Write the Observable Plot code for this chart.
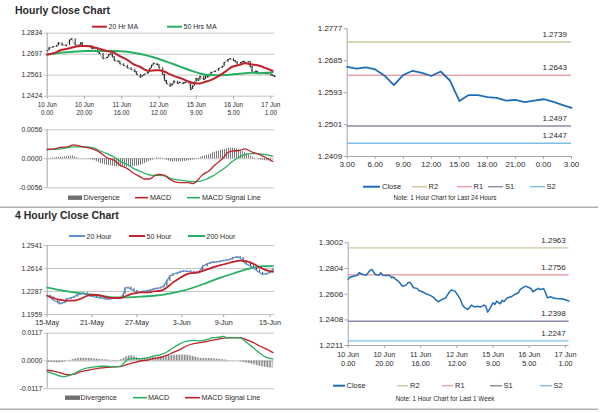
<!DOCTYPE html>
<html><head><meta charset="utf-8">
<script src="https://cdn.jsdelivr.net/npm/d3@7"></script>
<script src="https://cdn.jsdelivr.net/npm/@observablehq/plot@0.6"></script>
<style>
html,body{margin:0;padding:0;background:#fff;}
#root{position:relative;width:600px;height:413px;overflow:hidden;background:#fff;font-family:"Liberation Sans",Arial,Helvetica,sans-serif;}
#root svg{position:absolute;overflow:visible;}
</style></head>
<body><div id="root"></div>
<script>
// ================= DATA =================
// Hourly (last 1 week) – tick labels
const hrTickPos  = [0,20,40,60,80,100,120];
const hrTickDate = ["10 Jun","10 Jun","11 Jun","12 Jun","15 Jun","16 Jun","17 Jun"];
const hrTickTime = ["0.00","20.00","16.00","12.00","9.00","5.00","1.00"];
// Hourly close (bar index, value)
const hrX = [0,1,3,5,6,8,10,12,13,15,17,18,19,21,23,24,25,27,28,30,32,33,34,35,36,38,39,41,43,45,47,48,50,51,52,54,55,56,57,59,60,62,63,64,66,67,68,70,71,73,74,75,76,77,78,79,80,81,82,84,85,86,87,88,90,92,94,95,97,98,100,101,102,104,105,106,108,109,110,112,113,115,117,118,120,121,122];
const hrClose = [1.2720,1.2738,1.2745,1.2751,1.2771,1.2758,1.2753,1.2789,1.2797,1.2758,1.2753,1.2771,1.2753,1.2751,1.2751,1.2733,1.2738,1.2712,1.2702,1.2668,1.2676,1.2694,1.2699,1.2681,1.2656,1.2651,1.2635,1.2625,1.2609,1.2599,1.2584,1.2566,1.2548,1.2558,1.2566,1.2579,1.2604,1.2625,1.2638,1.2630,1.2609,1.2566,1.2527,1.2507,1.2489,1.2502,1.2522,1.2507,1.2514,1.2507,1.2514,1.2522,1.2514,1.2468,1.2489,1.2514,1.2540,1.2527,1.2553,1.2532,1.2558,1.2548,1.2566,1.2579,1.2586,1.2604,1.2617,1.2643,1.2661,1.2668,1.2656,1.2648,1.2625,1.2643,1.2651,1.2643,1.2648,1.2617,1.2579,1.2586,1.2579,1.2573,1.2571,1.2571,1.2563,1.2558,1.2553];
const hrMA20X = [0,4,7,11,14,18,21,25,28,32,36,39,43,46,50,53,55,58,60,63,66,69,73,76,79,82,85,89,92,96,99,103,106,110,114,117,121];
const hrMA20  = [1.2695,1.2706,1.2723,1.2733,1.2743,1.2750,1.2750,1.2743,1.2733,1.2718,1.2706,1.2685,1.2660,1.2635,1.2614,1.2593,1.2589,1.2593,1.2593,1.2583,1.2566,1.2551,1.2535,1.2518,1.2509,1.2507,1.2518,1.2535,1.2555,1.2587,1.2614,1.2626,1.2639,1.2631,1.2622,1.2608,1.2589];
const hrMA50X = [0,7,14,21,28,36,43,50,57,64,71,78,82,85,89,92,96,99,103,106,110,114,117,121];
const hrMA50  = [1.2695,1.2706,1.2714,1.2718,1.2718,1.2718,1.2714,1.2698,1.2677,1.2649,1.2618,1.2587,1.2572,1.2564,1.2562,1.2560,1.2562,1.2566,1.2570,1.2574,1.2576,1.2574,1.2576,1.2580];
const hrYTicks = [1.2424,1.2561,1.2697,1.2834];
// Hourly MACD
const hrMacdX = [0,4,7,11,14,16,18,21,25,28,32,36,39,43,46,50,52,55,58,60,63,66,69,73,76,78,80,83,87,90,94,97,99,103,106,110,114,117,121];
const hrMacd  = [0.0018,0.0019,0.0022,0.0023,0.0027,0.0026,0.0024,0.0022,0.0018,0.0013,0.0002,-0.0003,-0.0012,-0.0019,-0.0027,-0.0035,-0.0039,-0.0039,-0.0032,-0.0030,-0.0032,-0.0040,-0.0045,-0.0046,-0.0046,-0.0048,-0.0044,-0.0032,-0.0023,-0.0012,0,0.0012,0.0015,0.0016,0.0019,0.0013,0.0008,0.0003,-0.0005];
const hrSigX = [0,7,14,21,25,28,32,36,39,43,46,50,53,57,60,64,67,71,74,78,82,85,89,92,96,99,103,106,110,113,117,121];
const hrSig  = [0.0018,0.0019,0.0023,0.0023,0.0021,0.0016,0.0010,0.0003,-0.0005,-0.0011,-0.0018,-0.0024,-0.0029,-0.0032,-0.0032,-0.0034,-0.0039,-0.0041,-0.0042,-0.0044,-0.0043,-0.0040,-0.0033,-0.0026,-0.0016,-0.0006,0.0003,0.0008,0.0010,0.0010,0.0008,0.0005];
const hrDivX = [0,4,7,11,13,16,20,25,28,32,36,39,43,46,50,53,57,59,62,65,67,71,74,78,81,83,87,90,94,97,99,103,106,110,114,117,121];
const hrDiv  = [0,0.0002,0.0003,0.0004,0.0006,0.0002,0,-0.0003,-0.0008,-0.0012,-0.0015,-0.0016,-0.0016,-0.0015,-0.0013,-0.0008,-0.0002,0.0002,0.0001,-0.0004,-0.0006,-0.0006,-0.0005,-0.0003,0,0.0004,0.0008,0.0013,0.0017,0.0020,0.0021,0.0018,0.0012,0.0004,-0.0002,-0.0004,-0.0005];
const hrMacdTicks = [-0.0056,0,0.0056];

// Last 24 hours
const dayTickPos = [0,3,6,9,12,15,18,21,24];
const dayTickLab = ["3.00","6.00","9.00","12.00","15.00","18.00","21.00","0.00","3.00"];
const dayClose = [1.2667,1.2662,1.2666,1.2660,1.2642,1.2615,1.2644,1.2656,1.2650,1.2641,1.2654,1.2628,1.2569,1.2586,1.2586,1.2580,1.2578,1.2570,1.2572,1.2566,1.2570,1.2574,1.2567,1.2558,1.2549];
const dayYTicks = [1.2409,1.2501,1.2593,1.2685,1.2777];
const levelNames = ["R2","R1","S1","S2"];
const dayLevels  = [1.2739,1.2643,1.2497,1.2447];
const weekLevels = [1.2963,1.2756,1.2398,1.2247];
const weekYTicks = [1.2211,1.2408,1.2606,1.2804,1.3002];

// 4 hourly
const h4TickPos = [0,30,60,90,118,149];
const h4TickLab = ["15-May","21-May","27-May","3-Jun","9-Jun","15-Jun"];
const h4X = [0,2,4,7,8,10,12,13,16,18,20,22,24,27,29,31,33,36,38,40,42,44,47,49,51,52,54,56,58,60,62,64,67,69,71,73,76,78,80,82,84,87,89,91,93,96,98,100,102,104,107,109,111,113,116,118,120,122,124,127,129,131,133,136,138,140,142,144,147,149,151];
const h4Close = [1.2226,1.2203,1.2166,1.2133,1.2110,1.2119,1.2142,1.2180,1.2194,1.2212,1.2236,1.2250,1.2259,1.2240,1.2222,1.2212,1.2203,1.2194,1.2184,1.2175,1.2180,1.2189,1.2189,1.2194,1.2250,1.2334,1.2343,1.2320,1.2297,1.2264,1.2273,1.2287,1.2297,1.2306,1.2320,1.2329,1.2343,1.2367,1.2437,1.2507,1.2530,1.2553,1.2567,1.2577,1.2577,1.2567,1.2553,1.2544,1.2577,1.2647,1.2679,1.2693,1.2707,1.2703,1.2717,1.2726,1.2731,1.2740,1.2764,1.2778,1.2764,1.2717,1.2679,1.2647,1.2623,1.2586,1.2553,1.2530,1.2539,1.2567,1.2600];
const h4MA50X = [0,4,9,13,18,22,27,31,36,40,44,49,53,58,62,67,71,76,80,84,89,93,98,102,107,111,116,120,124,129,133,138,142,147,151];
const h4MA50  = [1.2226,1.2194,1.2166,1.2156,1.2156,1.2180,1.2226,1.2240,1.2226,1.2203,1.2194,1.2194,1.2226,1.2259,1.2273,1.2273,1.2287,1.2297,1.2343,1.2413,1.2483,1.2530,1.2553,1.2567,1.2600,1.2633,1.2661,1.2684,1.2707,1.2726,1.2717,1.2679,1.2633,1.2586,1.2567];
const h4MA200X = [0,9,18,27,36,44,53,62,71,80,89,98,107,116,124,133,140,144,151];
const h4MA200  = [1.2343,1.2306,1.2273,1.2250,1.2226,1.2203,1.2203,1.2212,1.2226,1.2250,1.2287,1.2343,1.2413,1.2483,1.2539,1.2600,1.2633,1.2647,1.2647];
const h4YTicks = [1.1959,1.2287,1.2614,1.2941];
const h4MacdX = [0,4,9,11,13,18,22,27,31,36,40,44,49,52,54,58,62,67,71,76,80,84,89,93,98,102,107,111,116,118,120,124,129,133,138,142,147,151];
const h4Macd  = [-0.0046,-0.0053,-0.0064,-0.0067,-0.0064,-0.0053,-0.0039,-0.0029,-0.0025,-0.0022,-0.0022,-0.0025,-0.0022,-0.0004,0.0007,0.0010,0.0010,0.0013,0.0021,0.0027,0.0038,0.0055,0.0073,0.0083,0.0087,0.0085,0.0091,0.0098,0.0101,0.0104,0.0097,0.0097,0.0097,0.0080,0.0055,0.0034,0.0014,0.0009];
const h4SigX = [0,4,9,13,18,22,27,31,36,40,44,49,53,58,62,67,71,76,80,84,89,93,98,102,107,111,116,120,124,129,133,138,142,147,151];
const h4Sig  = [-0.0039,-0.0043,-0.0050,-0.0057,-0.0056,-0.0046,-0.0039,-0.0034,-0.0029,-0.0027,-0.0025,-0.0024,-0.0015,-0.0007,0,0.0004,0.0010,0.0015,0.0024,0.0035,0.0049,0.0063,0.0073,0.0077,0.0083,0.0088,0.0094,0.0097,0.0098,0.0098,0.0090,0.0077,0.0063,0.0049,0.0035];
const h4DivX = [0,4,9,12,16,20,24,29,33,38,42,47,50,53,56,59,62,67,71,76,80,84,89,93,98,102,107,111,116,120,124,129,133,138,142,147,151];
const h4Div  = [-0.0004,-0.0006,-0.0007,-0.0003,0.0003,0.0010,0.0012,0.0011,0.0008,0.0005,0.0003,0.0002,0.0006,0.0018,0.0022,0.0018,0.0010,0.0012,0.0015,0.0018,0.0020,0.0023,0.0025,0.0024,0.0018,0.0012,0.0010,0.0009,0.0006,0.0003,0.0001,-0.0002,-0.0008,-0.0015,-0.0022,-0.0027,-0.0030];
const h4MacdTicks = [-0.0117,0,0.0117];

// ================= STYLE =================
const FONT = '"Liberation Sans", Arial, Helvetica, sans-serif';
const RED = "#c0232b", GREEN = "#27b062", BLUE4 = "#5c8fd3", CLOSE = "#1f6db6";
const levelColors = ["#cac89c","#eaa5a8","#8f88a9","#7cbfe2"];
const GRID = "#c4c4c4", AXIS = "#a6a6a6", TXT = "#2a2a2a";
const root = document.getElementById("root");

// hatch pattern for the divergence histogram
root.insertAdjacentHTML("beforeend",
 `<svg width="0" height="0" style="left:0;top:0"><defs>
   <pattern id="vhatch" patternUnits="userSpaceOnUse" width="2" height="2"><rect x="0" y="0" width="1" height="2" fill="#7a7a7a"/></pattern>
   <pattern id="vhatch4" patternUnits="userSpaceOnUse" width="1.6" height="2"><rect x="0" y="0" width="0.9" height="2" fill="#7a7a7a"/></pattern>
 </defs></svg>`);

function place(svg, left, top){ svg.style.left = left+"px"; svg.style.top = top+"px"; root.appendChild(svg); }
const pts = (xs, ys) => ys.map((y,i)=>({x:xs[i], y}));
function bars(xs, ys){ return ys.map((c,i)=>{ const p = i ? ys[i-1] : c; return {x:xs[i], lo:Math.min(p,c), hi:Math.max(p,c), c}; }); }
const f4 = d => d.toFixed(4);

// ---------- Panel A: hourly close, top-left ----------
{
  const svg = Plot.plot({
    width:290, height:95, marginLeft:46.7, marginRight:16, marginTop:7.7, marginBottom:24.3,
    style:{fontFamily:FONT, fontSize:"6.8px", color:TXT, background:"transparent"},
    x:{domain:[0,122]}, y:{domain:[1.2424,1.2834]},
    marks:[
      Plot.gridY(hrYTicks,{stroke:GRID, strokeOpacity:1}),
      Plot.axisY({ticks:hrYTicks, tickFormat:f4, tickSize:3, tickPadding:2, stroke:GRID, label:null}),
      Plot.ruleX([0],{stroke:AXIS}),
      Plot.axisX({ticks:hrTickPos, tickFormat:d=>{const i=hrTickPos.indexOf(d); return hrTickDate[i]+"\n"+hrTickTime[i];}, tickSize:3, tickPadding:2, stroke:AXIS, label:null, fontSize:6.3, lineHeight:1.3}),
      Plot.line(pts(hrX,hrClose),{x:"x",y:"y",stroke:"#9a9a9a",strokeWidth:0.8}),
      Plot.ruleX(bars(hrX,hrClose),{x:"x",y1:"lo",y2:"hi",stroke:"#222",strokeWidth:1}),
      Plot.ruleY(bars(hrX,hrClose),{x1:"x",x2:d=>d.x+0.9,y:"c",stroke:"#222",strokeWidth:1}),
      Plot.line(pts(hrMA50X,hrMA50),{x:"x",y:"y",stroke:GREEN,strokeWidth:2,curve:"monotone-x"}),
      Plot.line(pts(hrMA20X,hrMA20),{x:"x",y:"y",stroke:RED,strokeWidth:2,curve:"monotone-x"})
    ]
  });
  place(svg,0,25);
}
// ---------- Panel B: hourly MACD ----------
{
  const svg = Plot.plot({
    width:290, height:70, marginLeft:46.7, marginRight:16, marginTop:5.3, marginBottom:6.7,
    style:{fontFamily:FONT, fontSize:"6.8px", color:TXT, background:"transparent"},
    x:{domain:[0,122], axis:null}, y:{domain:[-0.0056,0.0056]},
    marks:[
      Plot.gridY(hrMacdTicks,{stroke:GRID, strokeOpacity:1}),
      Plot.axisY({ticks:hrMacdTicks, tickFormat:f4, tickSize:3, tickPadding:2, stroke:GRID, label:null}),
      Plot.ruleX([0],{stroke:AXIS}),
      Plot.areaY(pts(hrDivX,hrDiv),{x:"x",y:"y",fill:"url(#vhatch)",curve:"monotone-x"}),
      Plot.line(pts(hrSigX,hrSig),{x:"x",y:"y",stroke:GREEN,strokeWidth:1.3,curve:"monotone-x"}),
      Plot.line(pts(hrMacdX,hrMacd),{x:"x",y:"y",stroke:RED,strokeWidth:1.3,curve:"monotone-x"})
    ]
  });
  place(svg,0,124);
}
// ---------- Panel C: last 24 hours ----------
{
  const svg = Plot.plot({
    width:290, height:155, marginLeft:46.7, marginRight:19, marginTop:8.3, marginBottom:19,
    style:{fontFamily:FONT, fontSize:"8px", color:TXT, background:"transparent"},
    x:{domain:[0,24]}, y:{domain:[1.2409,1.2777]},
    marks:[
      Plot.axisY({ticks:dayYTicks, tickFormat:f4, tickSize:3, tickPadding:2, stroke:AXIS, label:null}),
      Plot.axisX({ticks:dayTickPos, tickFormat:d=>dayTickLab[dayTickPos.indexOf(d)], tickSize:3, tickPadding:2, stroke:AXIS, label:null}),
      Plot.ruleX([0],{stroke:AXIS}),
      Plot.ruleY([1.2409],{stroke:AXIS}),
      ...dayLevels.map((v,i)=>Plot.ruleY([v],{stroke:levelColors[i],strokeWidth:1.4})),
      Plot.text(dayLevels,{x:()=>22.2,y:d=>d,text:f4,dy:-7.5,fontSize:8,fill:TXT}),
      Plot.line(dayClose,{x:(d,i)=>i,y:d=>d,stroke:CLOSE,strokeWidth:1.8})
    ]
  });
  place(svg,300,20);
}
// ---------- Panel D: last 1 week ----------
{
  const svg = Plot.plot({
    width:290, height:135, marginLeft:47.7, marginRight:21.4, marginTop:7.3, marginBottom:25,
    style:{fontFamily:FONT, fontSize:"8px", color:TXT, background:"transparent"},
    x:{domain:[0,122]}, y:{domain:[1.2211,1.3002]},
    marks:[
      Plot.axisY({ticks:weekYTicks, tickFormat:f4, tickSize:3, tickPadding:2, stroke:AXIS, label:null}),
      Plot.axisX({ticks:hrTickPos, tickFormat:d=>{const i=hrTickPos.indexOf(d); return hrTickDate[i]+"\n"+hrTickTime[i];}, tickSize:3, tickPadding:2, stroke:AXIS, label:null, fontSize:7.3, lineHeight:1.25}),
      Plot.ruleX([0],{stroke:AXIS}),
      Plot.ruleY([1.2211],{stroke:AXIS}),
      ...weekLevels.map((v,i)=>Plot.ruleY([v],{stroke:levelColors[i],strokeWidth:1.4})),
      Plot.text(weekLevels,{x:()=>113.4,y:d=>d,text:f4,dy:-7.5,fontSize:8,fill:TXT}),
      Plot.line(pts(hrX,hrClose),{x:"x",y:"y",stroke:CLOSE,strokeWidth:1.5})
    ]
  });
  place(svg,300,235);
}
// ---------- Panel E: 4 hourly close ----------
{
  const svg = Plot.plot({
    width:290, height:93, marginLeft:46.7, marginRight:16, marginTop:7, marginBottom:17,
    style:{fontFamily:FONT, fontSize:"6.8px", color:TXT, background:"transparent"},
    x:{domain:[0,152]}, y:{domain:[1.1959,1.2941]},
    marks:[
      Plot.gridY(h4YTicks,{stroke:GRID, strokeOpacity:1}),
      Plot.axisY({ticks:h4YTicks, tickFormat:f4, tickSize:3, tickPadding:2, stroke:GRID, label:null}),
      Plot.ruleX([0],{stroke:AXIS}),
      Plot.axisX({ticks:h4TickPos, tickFormat:d=>h4TickLab[h4TickPos.indexOf(d)], tickSize:3, tickPadding:2, stroke:AXIS, label:null, fontSize:7.2}),
      Plot.ruleX(bars(h4X,h4Close),{x:"x",y1:d=>d.lo-0.0006,y2:d=>d.hi+0.0006,stroke:"#222",strokeWidth:0.9}),
      Plot.line(pts(h4MA200X,h4MA200),{x:"x",y:"y",stroke:GREEN,strokeWidth:1.8,curve:"monotone-x"}),
      Plot.line(pts(h4X,h4Close),{x:"x",y:"y",stroke:BLUE4,strokeWidth:1.3}),
      Plot.line(pts(h4MA50X,h4MA50),{x:"x",y:"y",stroke:RED,strokeWidth:1.8,curve:"monotone-x"})
    ]
  });
  place(svg,0,238);
}
// ---------- Panel F: 4 hourly MACD ----------
{
  const svg = Plot.plot({
    width:290, height:66, marginLeft:46.7, marginRight:16, marginTop:5.7, marginBottom:4.7,
    style:{fontFamily:FONT, fontSize:"6.8px", color:TXT, background:"transparent"},
    x:{domain:[0,152], axis:null}, y:{domain:[-0.0117,0.0117]},
    marks:[
      Plot.gridY(h4MacdTicks,{stroke:GRID, strokeOpacity:1}),
      Plot.axisY({ticks:h4MacdTicks, tickFormat:f4, tickSize:3, tickPadding:2, stroke:GRID, label:null}),
      Plot.ruleX([0],{stroke:AXIS}),
      Plot.areaY(pts(h4DivX,h4Div),{x:"x",y:"y",fill:"url(#vhatch4)",curve:"monotone-x"}),
      Plot.line(pts(h4SigX,h4Sig),{x:"x",y:"y",stroke:RED,strokeWidth:1.3,curve:"monotone-x"}),
      Plot.line(pts(h4MacdX,h4Macd),{x:"x",y:"y",stroke:GREEN,strokeWidth:1.3,curve:"monotone-x"})
    ]
  });
  place(svg,0,327);
}

// ================= TITLES, LEGENDS, NOTES =================
const ov = d3.select(root).append("svg").attr("width",600).attr("height",413)
  .style("left","0px").style("top","0px").style("pointer-events","none")
  .attr("font-family",FONT).attr("fill",TXT);
function txt(x,y,s,fs,opts={}){ ov.append("text").attr("x",x).attr("y",y).attr("font-size",fs)
  .attr("dominant-baseline","central").attr("text-anchor",opts.anchor||"start")
  .attr("font-weight",opts.bold?"bold":null).text(s); }
function legend(y, fs, items){
  for(const it of items){
    if(it.kind==="bar") ov.append("rect").attr("x",it.x0).attr("y",y-2.2).attr("width",it.x1-it.x0).attr("height",4.4).attr("fill","#6e6e6e");
    else ov.append("line").attr("x1",it.x0).attr("x2",it.x1).attr("y1",y).attr("y2",y).attr("stroke",it.color).attr("stroke-width",it.w||1.6);
    txt(it.tx,y,it.label,fs);
  }
}
txt(15,9.5,"Hourly Close Chart",10.5,{bold:true});
txt(15,215,"4 Hourly Close Chart",10.5,{bold:true});
legend(26.7,7,[{x0:92,x1:107,tx:108.5,label:"20 Hr MA",color:RED,w:2},{x0:167,x1:182,tx:183.5,label:"50 Hrs MA",color:GREEN,w:2}]);
legend(197.7,7.2,[{kind:"bar",x0:68,x1:82,tx:83.5,label:"Divergence"},{x0:135,x1:148,tx:150,label:"MACD",color:RED},{x0:187,x1:200,tx:202,label:"MACD Signal Line",color:GREEN}]);
legend(186.7,7.5,[{x0:363,x1:380,tx:382,label:"Close",color:CLOSE,w:2},
  ...levelNames.map((n,i)=>({x0:[412,457,488,530][i],x1:[427,472,503,545][i],tx:[428.5,473.5,505,546.5][i],label:n,color:levelColors[i],w:1.4}))]);
txt(445,197.5,"Note: 1 Hour Chart for Last 24 Hours",6.3,{anchor:"middle"});
legend(236,7,[{x0:69,x1:85,tx:86.5,label:"20 Hour",color:BLUE4,w:2},{x0:129,x1:145,tx:146.5,label:"50 Hour",color:RED,w:2},{x0:188,x1:205,tx:206.5,label:"200 Hour",color:GREEN,w:2}]);
legend(385.7,7.5,[{x0:333,x1:345,tx:346.5,label:"Close",color:CLOSE,w:2},
  ...levelNames.map((n,i)=>({x0:[397,442,490,540][i],x1:[408,453,502,552][i],tx:[410,455,503.5,553.5][i],label:n,color:levelColors[i],w:1.4}))]);
txt(445,398,"Note: 1 Hour Chart for Last 1 Week",6.3,{anchor:"middle"});
legend(397.7,7.2,[{kind:"bar",x0:65,x1:80,tx:80.5,label:"Divergence"},{x0:133,x1:147,tx:148,label:"MACD",color:GREEN},{x0:185,x1:200,tx:201.5,label:"MACD Signal Line",color:RED}]);
ov.append("line").attr("x1",0).attr("x2",598).attr("y1",207.3).attr("y2",207.3).attr("stroke","#b0b0b0").attr("stroke-width",1.5);
ov.append("line").attr("x1",0).attr("x2",598).attr("y1",409.3).attr("y2",409.3).attr("stroke","#b0b0b0").attr("stroke-width",1.5);
</script>
</body></html>
